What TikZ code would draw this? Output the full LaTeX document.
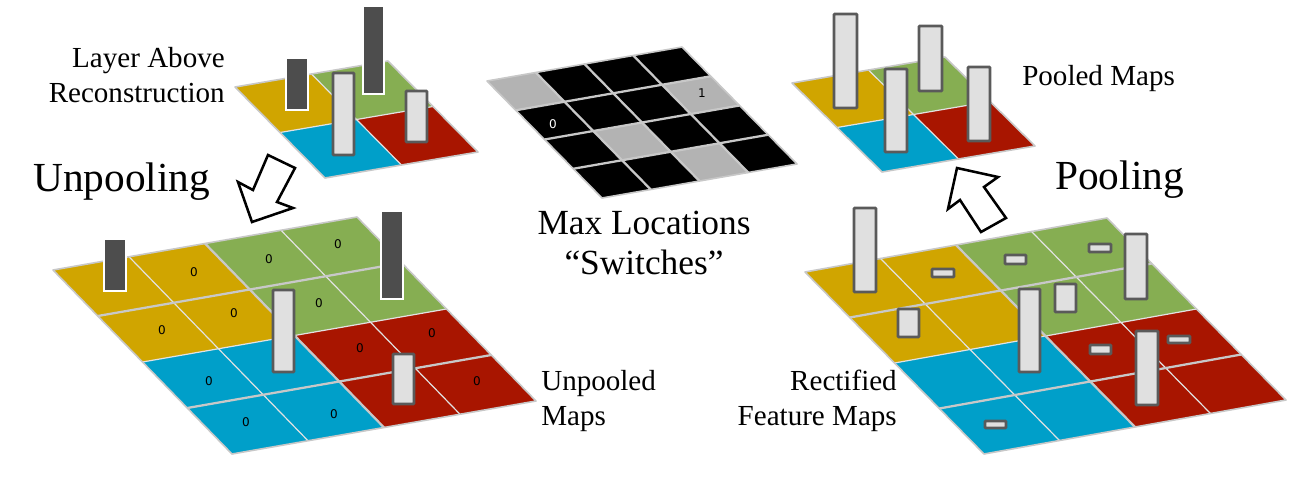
\documentclass[tikz,border=0pt]{standalone}
\usepackage{fontspec}
\setmainfont{Liberation Serif}
\setsansfont{DejaVu Sans}
\usepackage{xcolor}
\definecolor{Yolk}{HTML}{D0A500}
\definecolor{Moss}{HTML}{86AE52}
\definecolor{Sea}{HTML}{009FC9}
\definecolor{Brick}{HTML}{A81500}
\definecolor{Seam}{HTML}{C8C8C8}
\definecolor{Pale}{HTML}{E2E2E2}
\definecolor{BarFill}{HTML}{E0E0E0}
\definecolor{BarInk}{HTML}{5A5A5A}
\definecolor{BarDark}{HTML}{4D4D4D}
\definecolor{Switch}{HTML}{B3B3B3}
\tikzset{
  fineline/.style={Pale,line width=0.9pt},
  seamline/.style={Seam,line width=1.7pt},
  mapedge/.style={Seam,line width=1.2pt,line join=round},
  litebar/.style={fill=BarFill,draw=BarInk,line width=2pt,rounded corners=0.6pt},
  darkbar/.style={fill=BarDark,draw=white,line width=1.9pt},
  bigarrow/.style={fill=white,draw=black,line width=1.9pt,miter limit=10},
  zero/.style={inner sep=0pt,font=\sffamily\fontsize{9}{9}\selectfont},
  bigcap/.style={inner sep=0pt,font=\fontsize{31}{31}\selectfont},
  midcap/.style={inner sep=0pt,font=\fontsize{26.5}{26.5}\selectfont},
  smallcap/.style={inner sep=0pt,font=\fontsize{21.8}{21.8}\selectfont}
}
\begin{document}
\begin{tikzpicture}[x=0.75pt,y=-0.75pt]
\useasboundingbox (0,0) rectangle (1303,476);
% small map, top left
\begin{scope}[shift={(235,87)},x={(57.375pt,9.75pt)},y={(33.75pt,-34.125pt)}]
\fill[Yolk] (0,0) -- (1,0) -- (1,1) -- (0,1) -- cycle;
\fill[Moss] (1,0) -- (2,0) -- (2,1) -- (1,1) -- cycle;
\fill[Sea] (0,1) -- (1,1) -- (1,2) -- (0,2) -- cycle;
\fill[Brick] (1,1) -- (2,1) -- (2,2) -- (1,2) -- cycle;
\draw[fineline] (1,0) -- (1,2);
\draw[fineline] (0,1) -- (2,1);
\draw[mapedge] (0,0) -- (2,0) -- (2,2) -- (0,2) -- cycle;
\end{scope}
% switches map, middle
\begin{scope}[shift={(487,81)},x={(36.5625pt,6.375pt)},y={(21.5625pt,-21.9375pt)}]
\fill[black] (0,0) -- (4,0) -- (4,4) -- (0,4) -- cycle;
\fill[Switch] (0,0) -- (1,0) -- (1,1) -- (0,1) -- cycle;
\fill[Switch] (3,1) -- (4,1) -- (4,2) -- (3,2) -- cycle;
\fill[Switch] (1,2) -- (2,2) -- (2,3) -- (1,3) -- cycle;
\fill[Switch] (2,3) -- (3,3) -- (3,4) -- (2,4) -- cycle;
\draw[seamline] (1,0) -- (1,4);
\draw[seamline] (2,0) -- (2,4);
\draw[seamline] (3,0) -- (3,4);
\draw[seamline] (0,1) -- (4,1);
\draw[seamline] (0,2) -- (4,2);
\draw[seamline] (0,3) -- (4,3);
\draw[mapedge] (0,0) -- (4,0) -- (4,4) -- (0,4) -- cycle;
\end{scope}
% pooled map, top right
\begin{scope}[shift={(792,83)},x={(57.375pt,9.75pt)},y={(33.75pt,-33.375pt)}]
\fill[Yolk] (0,0) -- (1,0) -- (1,1) -- (0,1) -- cycle;
\fill[Moss] (1,0) -- (2,0) -- (2,1) -- (1,1) -- cycle;
\fill[Sea] (0,1) -- (1,1) -- (1,2) -- (0,2) -- cycle;
\fill[Brick] (1,1) -- (2,1) -- (2,2) -- (1,2) -- cycle;
\draw[fineline] (1,0) -- (1,2);
\draw[fineline] (0,1) -- (2,1);
\draw[mapedge] (0,0) -- (2,0) -- (2,2) -- (0,2) -- cycle;
\end{scope}
% unpooled map
\begin{scope}[shift={(53,270)},x={(57pt,9.9375pt)},y={(33.5625pt,-34.5pt)}]
\fill[Yolk] (0,0) -- (2,0) -- (2,2) -- (0,2) -- cycle;
\fill[Moss] (2,0) -- (4,0) -- (4,2) -- (2,2) -- cycle;
\fill[Sea] (0,2) -- (2,2) -- (2,4) -- (0,4) -- cycle;
\fill[Brick] (2,2) -- (4,2) -- (4,4) -- (2,4) -- cycle;
\draw[fineline] (1,0) -- (1,4);
\draw[fineline] (3,0) -- (3,4);
\draw[fineline] (0,2) -- (4,2);
\draw[seamline] (0,1) -- (4,1);
\draw[seamline] (0,3) -- (4,3);
\draw[seamline] (2,0) -- (2,4);
\draw[mapedge] (0,0) -- (4,0) -- (4,4) -- (0,4) -- cycle;
\end{scope}
% rectified map
\begin{scope}[shift={(805,272)},x={(56.625pt,10.125pt)},y={(33.5625pt,-34.125pt)}]
\fill[Yolk] (0,0) -- (2,0) -- (2,2) -- (0,2) -- cycle;
\fill[Moss] (2,0) -- (4,0) -- (4,2) -- (2,2) -- cycle;
\fill[Sea] (0,2) -- (2,2) -- (2,4) -- (0,4) -- cycle;
\fill[Brick] (2,2) -- (4,2) -- (4,4) -- (2,4) -- cycle;
\draw[fineline] (1,0) -- (1,4);
\draw[fineline] (3,0) -- (3,4);
\draw[fineline] (0,2) -- (4,2);
\draw[seamline] (0,1) -- (4,1);
\draw[seamline] (0,3) -- (4,3);
\draw[seamline] (2,0) -- (2,4);
\draw[mapedge] (0,0) -- (4,0) -- (4,4) -- (0,4) -- cycle;
\end{scope}
% bars, small map top left
\draw[darkbar] (286,58) rectangle (308,110);
\draw[darkbar] (363,6) rectangle (384,94);
\draw[litebar] (333,73) rectangle (354,155);
\draw[litebar] (406,91) rectangle (427,142);
% bars, pooled map
\draw[litebar] (834,14) rectangle (857,108);
\draw[litebar] (919,26) rectangle (942,91);
\draw[litebar] (885,69) rectangle (907,152);
\draw[litebar] (968,67) rectangle (990,141);
% bars, unpooled map
\draw[darkbar] (104,239) rectangle (126,291);
\draw[darkbar] (381,211) rectangle (403,299);
\draw[litebar] (273,290) rectangle (294,372);
\draw[litebar] (393,354) rectangle (414,404);
% bars, rectified map
\draw[litebar] (854,208) rectangle (876,292);
\draw[litebar] (932,269) rectangle (954,277);
\draw[litebar] (1005,255) rectangle (1026,264);
\draw[litebar] (1089,244) rectangle (1111,252);
\draw[litebar] (1125,234) rectangle (1147,299);
\draw[litebar] (1055,284) rectangle (1076,312);
\draw[litebar] (898,309) rectangle (919,337);
\draw[litebar] (1019,289) rectangle (1040,372);
\draw[litebar] (1090,345) rectangle (1111,354);
\draw[litebar] (1168,336) rectangle (1190,343);
\draw[litebar] (1136,331) rectangle (1158,405);
\draw[litebar] (985,421) rectangle (1006,428);
% the two block arrows
\draw[bigarrow] (268,155) -- (295,168) -- (277,202) -- (293,208) -- (252,222) -- (238,182) -- (253,190) -- cycle;
\draw[bigarrow] (957,168) -- (998,177) -- (984,187) -- (1006,218) -- (981,232) -- (960,200) -- (948,209) -- cycle;
% zeros, unpooled map
\node[zero] (zeroa) at (194,272) {0};
\node[zero] (zerob) at (269,259) {0};
\node[zero] (zeroc) at (338,244) {0};
\node[zero] (zerod) at (234,313) {0};
\node[zero] (zeroe) at (162,330) {0};
\node[zero] (zerof) at (319,303) {0};
\node[zero] (zerog) at (209,381) {0};
\node[zero] (zeroh) at (246,422) {0};
\node[zero] (zeroi) at (334,414) {0};
\node[zero] (zeroj) at (360,348) {0};
\node[zero] (zerok) at (432,333) {0};
\node[zero] (zerol) at (477,381) {0};
% switch values
\node[zero,text=white] (switchoff) at (553,124) {0};
\node[zero] (switchon) at (702,93) {1};
% captions
\node[smallcap,anchor=base east] (layerabove) at (225,67) {Layer Above};
\node[smallcap,anchor=base east] (reconstruction) at (225,102) {Reconstruction};
\node[bigcap,anchor=base west] (unpoolingcap) at (33,191) {Unpooling};
\node[bigcap,anchor=base west] (poolingcap) at (1055,189) {Pooling};
\node[midcap,anchor=base] (maxlocations) at (644,234) {Max Locations};
\node[midcap,anchor=base] (switches) at (644,274) {“Switches”};
\node[smallcap,anchor=base west] (pooledmaps) at (1022,85) {Pooled Maps};
\node[smallcap,anchor=base west] (unpooled) at (541,390) {Unpooled};
\node[smallcap,anchor=base west] (unpooledmaps) at (541,425) {Maps};
\node[smallcap,anchor=base east] (rectified) at (897,390) {Rectified};
\node[smallcap,anchor=base east] (featuremaps) at (897,425) {Feature Maps};
\end{tikzpicture}
\end{document}
